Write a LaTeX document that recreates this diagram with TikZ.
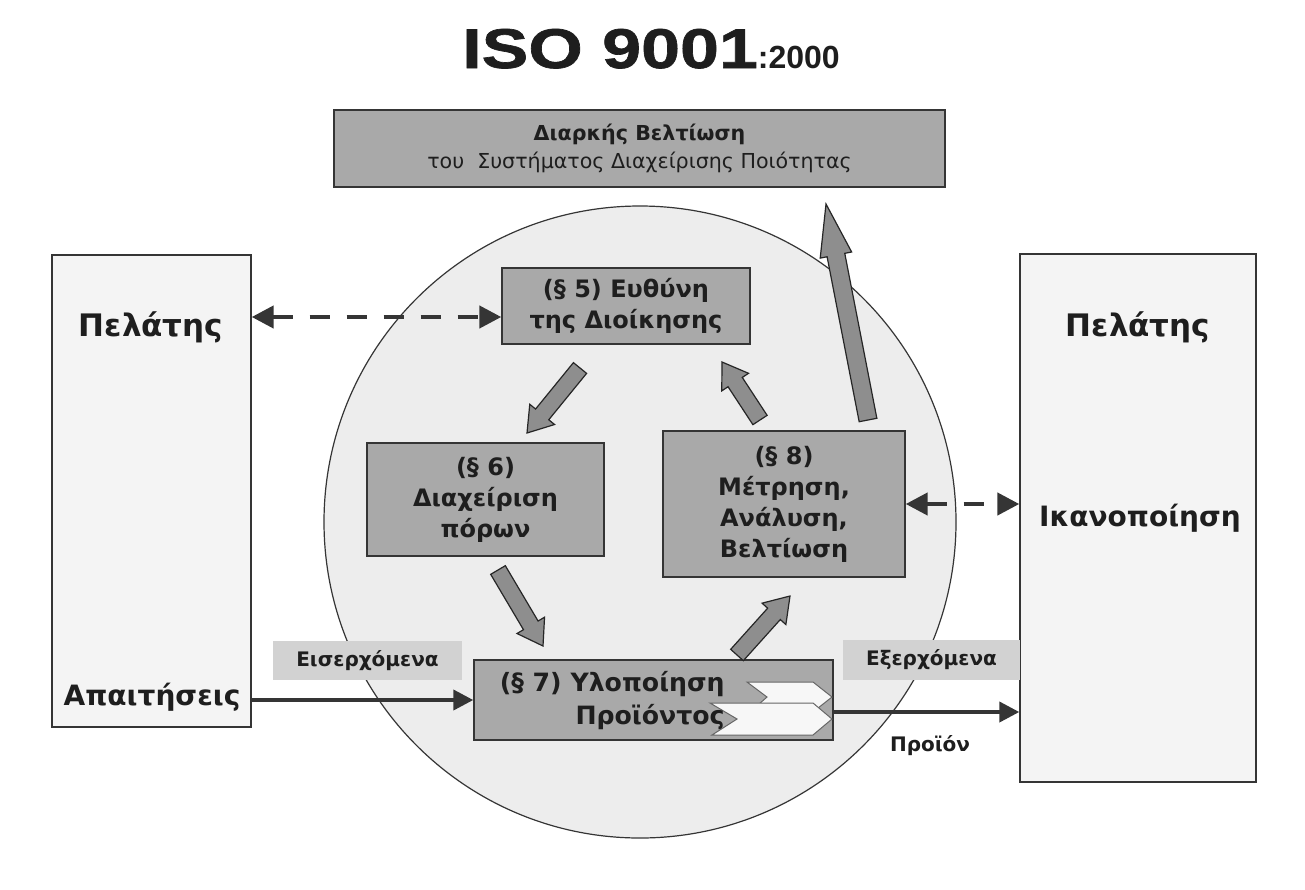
\documentclass[tikz,border=0pt]{standalone}
\usepackage{fontspec}
\usepackage{graphicx}
\setmainfont{DejaVu Sans}
\newfontfamily\titlefont{Liberation Sans}[FakeStretch=1.25,FakeBold=1.2]
\newfontfamily\subtitlefont{Liberation Sans}
\usetikzlibrary{arrows.meta,calc}
\definecolor{boxgray}{HTML}{A9A9A9}
\definecolor{lblgray}{HTML}{D2D2D2}
\definecolor{arrgray}{HTML}{8E8E8E}
\definecolor{linegray}{HTML}{353535}
\definecolor{circfill}{HTML}{EDEDED}
\definecolor{sidefill}{HTML}{F4F4F4}
\definecolor{txt}{HTML}{1E1E1E}
\tikzset{
  sidebox/.style={draw=linegray, fill=sidefill, line width=0.7pt, inner sep=0pt},
  procbox/.style={draw=linegray, fill=boxgray, line width=0.7pt, inner sep=0pt, align=center, text=txt,
    font=\bfseries\fontsize{12}{15.5}\selectfont},
  lblbox/.style={fill=lblgray, inner sep=0pt, text=txt, font=\bfseries\fontsize{10}{12}\selectfont},
  bigtxt/.style={text=txt, font=\bfseries\fontsize{15.5}{18}\selectfont},
  midtxt/.style={text=txt, font=\bfseries\fontsize{14}{18}\selectfont},
  smalltxt/.style={text=txt, font=\bfseries\fontsize{10}{12}\selectfont},
  dasharr/.style={draw=linegray, line width=2.2pt, dash pattern=on 10pt off 8.5pt,
    {Triangle[length=11pt,width=11pt]}-{Triangle[length=11pt,width=11pt]}},
  solidarr/.style={draw=linegray, line width=2pt, -{Triangle[length=10pt,width=10pt]}},
  barrow/.style={fill=arrgray, draw=black!85, line width=0.6pt, line join=miter},
  chevron/.style={fill=white!94!gray, draw=black!60, line width=0.5pt},
}
% tail, tip, shaft half width, head half width, head length
\newcommand\blockarrow[5]{%
  \coordinate (ba-n) at ($(#2)!#5!(#1)$);
  \draw[barrow] ($(#1)!#3!90:(#2)$) -- ($(ba-n)!#3!-90:(#1)$) -- ($(ba-n)!#4!-90:(#1)$)
    -- (#2) -- ($(ba-n)!#4!90:(#1)$) -- ($(ba-n)!#3!90:(#1)$) -- ($(#1)!#3!-90:(#2)$) -- cycle;
}
\begin{document}
\begin{tikzpicture}[x=0.5pt,y=-0.5pt]
\useasboundingbox (0,0) rectangle (1305,889);
\fill[white] (0,0) rectangle (1305,889);

% title
\node[anchor=base, inner sep=0pt, text=txt] (title) at (651,68)
  {{\titlefont\bfseries\fontsize{28}{28}\selectfont ISO 9001}{\subtitlefont\bfseries\fontsize{16}{16}\selectfont :2000}};

% circle
\node[circle, draw=linegray, fill=circfill, line width=0.6pt, minimum size=316pt, inner sep=0pt] (circ) at (640,522) {};

% top box
\node[procbox, font=\fontsize{10.3}{14}\selectfont, minimum width=305.5pt, minimum height=38.5pt] (top) at (639.5,148.5)
  {{\bfseries Διαρκής Βελτίωση}\\του\ \ Συστήματος Διαχείρισης Ποιότητας};

% side boxes
\node[sidebox, minimum width=99.5pt, minimum height=236pt] (left) at (151.5,491) {};
\node[sidebox, minimum width=118pt, minimum height=264pt] (right) at (1138,518) {};
\node[bigtxt] (lcust) at (151,327) {Πελάτης};
\node[midtxt] (req) at (152,697) {Απαιτήσεις};
\node[bigtxt] (rcust) at (1138,327) {Πελάτης};
\node[midtxt] (sat) at (1140,518) {Ικανοποίηση};

% process boxes
\node[procbox, minimum width=124pt, minimum height=38pt] (s5) at (626,306) {(§ 5) Ευθύνη\\της Διοίκησης};
\node[procbox, minimum width=118.5pt, minimum height=56.5pt] (s6) at (485.5,499.5) {(§ 6)\\Διαχείριση\\πόρων};
\node[procbox, minimum width=121pt, minimum height=73pt] (s8) at (784,504) {(§ 8)\\Μέτρηση,\\Ανάλυση,\\Βελτίωση};
\node[procbox, minimum width=179.5pt, minimum height=40pt] (s7) at (653.5,700) {};
\draw[chevron] (747,682) -- (813,682) -- (832,697) -- (813,712) -- (750,712) -- (767,697) -- cycle;
\draw[chevron] (710,703) -- (813,703) -- (832,719) -- (813,735) -- (712,735) -- (737,719) -- cycle;
\node[anchor=east, align=right, inner sep=0pt, text=txt, font=\bfseries\fontsize{12.6}{16.5}\selectfont] (s7t) at (725,701)
  {(§ 7) Υλοποίηση\\Προϊόντος};

% labels
\node[lblbox, minimum width=94.5pt, minimum height=19.5pt] (in) at (367.5,660.5) {Εισερχόμενα};
\node[lblbox, minimum width=88.5pt, minimum height=20pt] (out) at (931.5,660) {Εξερχόμενα};
\node[smalltxt] (prod) at (930,746) {Προϊόν};

% solid arrows
\draw[solidarr] (s7.west -| left.east) -- (s7.west);
\coordinate (o1) at ([yshift=-6pt]s7.east);
\draw[solidarr] (o1) -- (o1 -| right.west);

% dashed arrows
\coordinate (d1) at ([yshift=-5.5pt]s5.west);
\draw[dasharr] (d1 -| left.east) -- (d1);
\draw[dasharr] (s8.east) -- (s8.east -| right.west);

% block arrows
\coordinate (a1t) at (580,368); \coordinate (a1h) at (527,433);
\coordinate (a2t) at (498,570); \coordinate (a2h) at (543,646);
\coordinate (a3t) at (737,655); \coordinate (a3h) at (790,596);
\coordinate (a4t) at (760,420); \coordinate (a4h) at (722,362);
\coordinate (a5t) at (868,420); \coordinate (a5h) at (826,204);
\blockarrow{a1t}{a1h}{4.25pt}{8pt}{12pt}
\blockarrow{a2t}{a2h}{4.25pt}{8pt}{12pt}
\blockarrow{a3t}{a3h}{4.25pt}{8pt}{12pt}
\blockarrow{a4t}{a4h}{4.25pt}{8pt}{12pt}
\blockarrow{a5t}{a5h}{4.5pt}{8pt}{26pt}
\end{tikzpicture}
\end{document}
